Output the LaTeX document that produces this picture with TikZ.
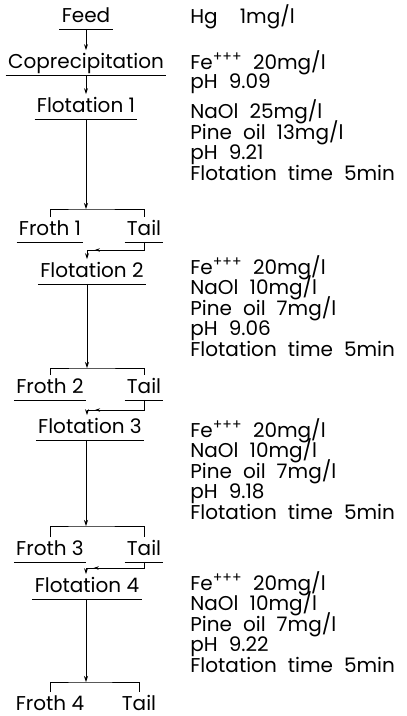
\documentclass[tikz,border=0pt]{standalone}
\usepackage{fontspec}
\setmainfont{Poppins}
\usetikzlibrary{arrows.meta,decorations.markings}
\newcommand\condfont[1]{\fontsize{20}{#1}\selectfont\lineskiplimit=-20pt\relax\spaceskip=0.55em\relax}
\tikzset{%
  ul/.style={draw, line width=0.8pt},
  stage/.style={anchor=base, inner xsep=2pt, inner ysep=1.5pt, text height=16pt, text depth=5pt,
    append after command={(\tikzlastnode.south west) edge[ul] (\tikzlastnode.south east)}},
  cond/.style={anchor=base west, align=left, inner sep=0pt, font=\condfont{20.5}},
  arrow/.style={-{Stealth[length=6pt,width=4pt]}, line width=0.8pt},
  link/.style={line width=0.8pt, postaction={decorate},
    decoration={markings, mark=at position 0.88 with {\arrow{Stealth[length=5pt,width=3.5pt]}}}}%
}
\begin{document}
\begin{tikzpicture}[x=1pt, y=-1pt, font=\fontsize{20}{20}\selectfont, line width=0.8pt]
\useasboundingbox (0,0) rectangle (407,716);

% Stages
\node[stage] (feed)   at (86,22)  {Feed};
\node[stage] (copre)  at (86,68)  {Coprecipitation};
\node[stage] (flot1)  at (86,112) {Flotation 1};
\node[stage] (froth1) at (50,235) {Froth 1};
\node[stage] (tail1)  at (144,235) {Tail};
\node[stage] (flot2)  at (92,277) {Flotation 2};
\node[stage] (froth2) at (50,393) {Froth 2};
\node[stage] (tail2)  at (144,393) {Tail};
\node[stage] (flot3)  at (90,433) {Flotation 3};
\node[stage] (froth3) at (50,555) {Froth 3};
\node[stage] (tail3)  at (144,555) {Tail};
\node[stage] (flot4)  at (87,592) {Flotation 4};
\node[stage] (froth4) at (50,710) {Froth 4};
\node[stage] (tail4)  at (139,710) {Tail};

% Split points and tail returns
\coordinate (b1) at (86,209);
\coordinate (l1) at (87,250);
\coordinate (b2) at (87,368);
\coordinate (l2) at (87,410);
\coordinate (b3) at (86,526);
\coordinate (l3) at (86,568);
\coordinate (b4) at (86,682);

% Conditions (anchored at the baseline of the last line)
\node[cond] (hg) at (190,23) {Hg\ \ 1mg/l};
\node[cond, font=\condfont{18.5}] (cond0) at (190,88)
  {Fe\textsuperscript{+++} 20mg/l\\pH 9.09};
\node[cond] (cond1) at (190,180)
  {NaOl 25mg/l\\Pine oil 13mg/l\\pH 9.21\\Flotation time 5min};
\node[cond] (cond2) at (190,356)
  {Fe\textsuperscript{+++} 20mg/l\\NaOl 10mg/l\\Pine oil 7mg/l\\pH 9.06\\Flotation time 5min};
\node[cond] (cond3) at (190,519)
  {Fe\textsuperscript{+++} 20mg/l\\NaOl 10mg/l\\Pine oil 7mg/l\\pH 9.18\\Flotation time 5min};
\node[cond] (cond4) at (190,672)
  {Fe\textsuperscript{+++} 20mg/l\\NaOl 10mg/l\\Pine oil 7mg/l\\pH 9.22\\Flotation time 5min};

% Connections
\draw[arrow] (feed) -- (copre);
\draw[arrow] (copre) -- (flot1);
\draw[arrow] (flot1.south -| b1) -- (b1);
\draw (froth1.north) |- (b1) -| (tail1.north);
\draw[link] (tail1.south) |- (l1);
\draw[arrow] (l1) -- (l1 |- flot2.north);
\draw[arrow] (flot2.south -| b2) -- (b2);
\draw (froth2.north) |- (b2) -| (tail2.north);
\draw[link] (tail2.south) |- (l2);
\draw[arrow] (l2) -- (l2 |- flot3.north);
\draw[arrow] (flot3.south -| b3) -- (b3);
\draw (froth3.north) |- (b3) -| (tail3.north);
\draw[link] (tail3.south) |- (l3);
\draw[arrow] (l3) -- (l3 |- flot4.north);
\draw[arrow] (flot4.south -| b4) -- (b4);
\draw (froth4.north) |- (b4) -| (tail4.north);

\end{tikzpicture}
\end{document}
